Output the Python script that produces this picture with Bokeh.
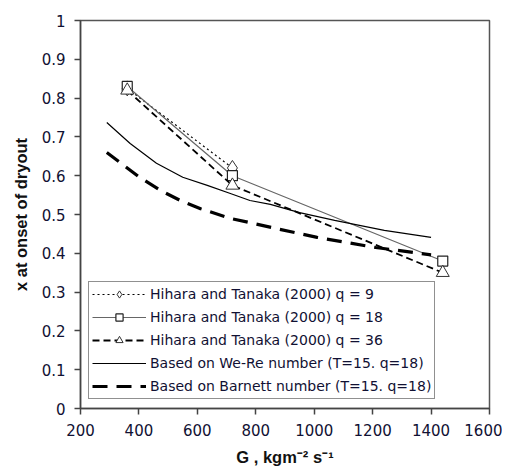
from bokeh.plotting import figure
from bokeh.models import Range1d, Legend, LegendItem, FixedTicker
from bokeh.embed import file_html
from bokeh.resources import INLINE

# ---- data ----
hh_G = [360, 720, 1440]
q9_G = [360, 720]
q9_x = [0.825, 0.62]
q18_x = [0.83, 0.60, 0.38]
q36_x = [0.82, 0.575, 0.35]

wer_G = [290, 370, 460, 550, 634, 713, 780, 850, 950, 1070, 1240, 1400]
wer_x = [0.737, 0.683, 0.632, 0.596, 0.575, 0.554, 0.536, 0.526, 0.505, 0.485, 0.459, 0.441]

bar_G = [290, 400, 474, 542, 611, 713, 780, 880, 1010, 1210, 1400]
bar_x = [0.66, 0.597, 0.562, 0.536, 0.515, 0.49, 0.479, 0.462, 0.441, 0.415, 0.396]

x_ticks = [200, 400, 600, 800, 1000, 1200, 1400, 1600]
y_ticks = [0, 0.1, 0.2, 0.3, 0.4, 0.5, 0.6, 0.7, 0.8, 0.9, 1.0]
y_tick_labels = ["0", "0.1", "0.2", "0.3", "0.4", "0.5", "0.6", "0.7", "0.8", "0.9", "1"]

legend_labels = [
    "Hihara and Tanaka (2000) q = 9",
    "Hihara and Tanaka (2000) q = 18",
    "Hihara and Tanaka (2000) q = 36",
    "Based on We-Re number (T=15. q=18)",
    "Based on Barnett number (T=15. q=18)",
]

FONT = "DejaVu Sans"
TXT = "#111133"

p = figure(width=502, height=463, frame_width=409, frame_height=388,
           min_border_left=80, min_border_right=13, min_border_top=20, min_border_bottom=55,
           x_range=Range1d(200, 1600), y_range=Range1d(0, 1),
           output_backend="svg", toolbar_location=None, tools="")
p.background_fill_color = "white"
p.border_fill_color = "white"
p.outline_line_color = "#555555"
p.outline_line_width = 1.5
p.xgrid.visible = False
p.ygrid.visible = False

for ax in (p.xaxis[0], p.yaxis[0]):
    ax.axis_line_color = "#444444"
    ax.axis_line_width = 1.5
    ax.major_tick_line_color = "#444444"
    ax.major_tick_line_width = 1.5
    ax.major_tick_out = 6
    ax.major_tick_in = 0
    ax.minor_tick_out = 0
    ax.minor_tick_in = 0
    ax.major_label_text_font = FONT
    ax.major_label_text_font_size = "15px"
    ax.major_label_text_color = TXT
    ax.major_label_standoff = 9
    ax.axis_label_text_font = "Liberation Sans"
    ax.axis_label_text_font_size = "16.5px"
    ax.axis_label_text_font_style = "bold"
    ax.axis_label_text_color = "#111111"

p.xaxis.ticker = FixedTicker(ticks=x_ticks)
p.yaxis.ticker = FixedTicker(ticks=y_ticks)
p.yaxis.major_label_overrides = {t: l for t, l in zip(y_ticks, y_tick_labels)}
p.xaxis.axis_label = "G , kgm\u207b\u00b2 s\u207b\u00b9"
p.yaxis.axis_label = "x at onset of dryout"
p.xaxis.axis_label_standoff = 9
p.yaxis.axis_label_standoff = 9

# ---- series ----
r9l = p.line(q9_G, q9_x, line_color="black", line_width=1.2, line_dash="2 3")
r9m = p.scatter(q9_G, q9_x, marker="diamond", size=15, fill_color="white",
                line_color="#333333", line_width=1)

r18l = p.line(hh_G, q18_x, line_color="#666666", line_width=1.2)
r18m = p.scatter(hh_G, q18_x, marker="square", size=10, fill_color="white",
                 line_color="#222222", line_width=1.2)

r36l = p.line(hh_G, q36_x, line_color="black", line_width=1.8, line_dash="7 4")
r36m = p.scatter(hh_G, q36_x, marker="triangle", size=13, fill_color="white",
                 line_color="#333333", line_width=1)

rwe = p.line(wer_G, wer_x, line_color="black", line_width=1.2)
rba = p.line(bar_G, bar_x, line_color="black", line_width=3.2, line_dash="15 9")

legend = Legend(items=[
    LegendItem(label=legend_labels[0], renderers=[r9l, r9m]),
    LegendItem(label=legend_labels[1], renderers=[r18l, r18m]),
    LegendItem(label=legend_labels[2], renderers=[r36l, r36m]),
    LegendItem(label=legend_labels[3], renderers=[rwe]),
    LegendItem(label=legend_labels[4], renderers=[rba]),
], location=(8, 9))
legend.background_fill_color = "white"
legend.background_fill_alpha = 1
legend.border_line_color = "#222222"
legend.border_line_width = 1.5
legend.label_text_font = FONT
legend.label_text_font_size = "14px"
legend.label_text_color = TXT
legend.glyph_width = 54
legend.glyph_height = 18
legend.label_height = 18
legend.spacing = 5
legend.padding = 3
legend.margin = 0
legend.label_standoff = 4
p.add_layout(legend, "center")

open("out.html", "w").write(file_html(p, INLINE))
